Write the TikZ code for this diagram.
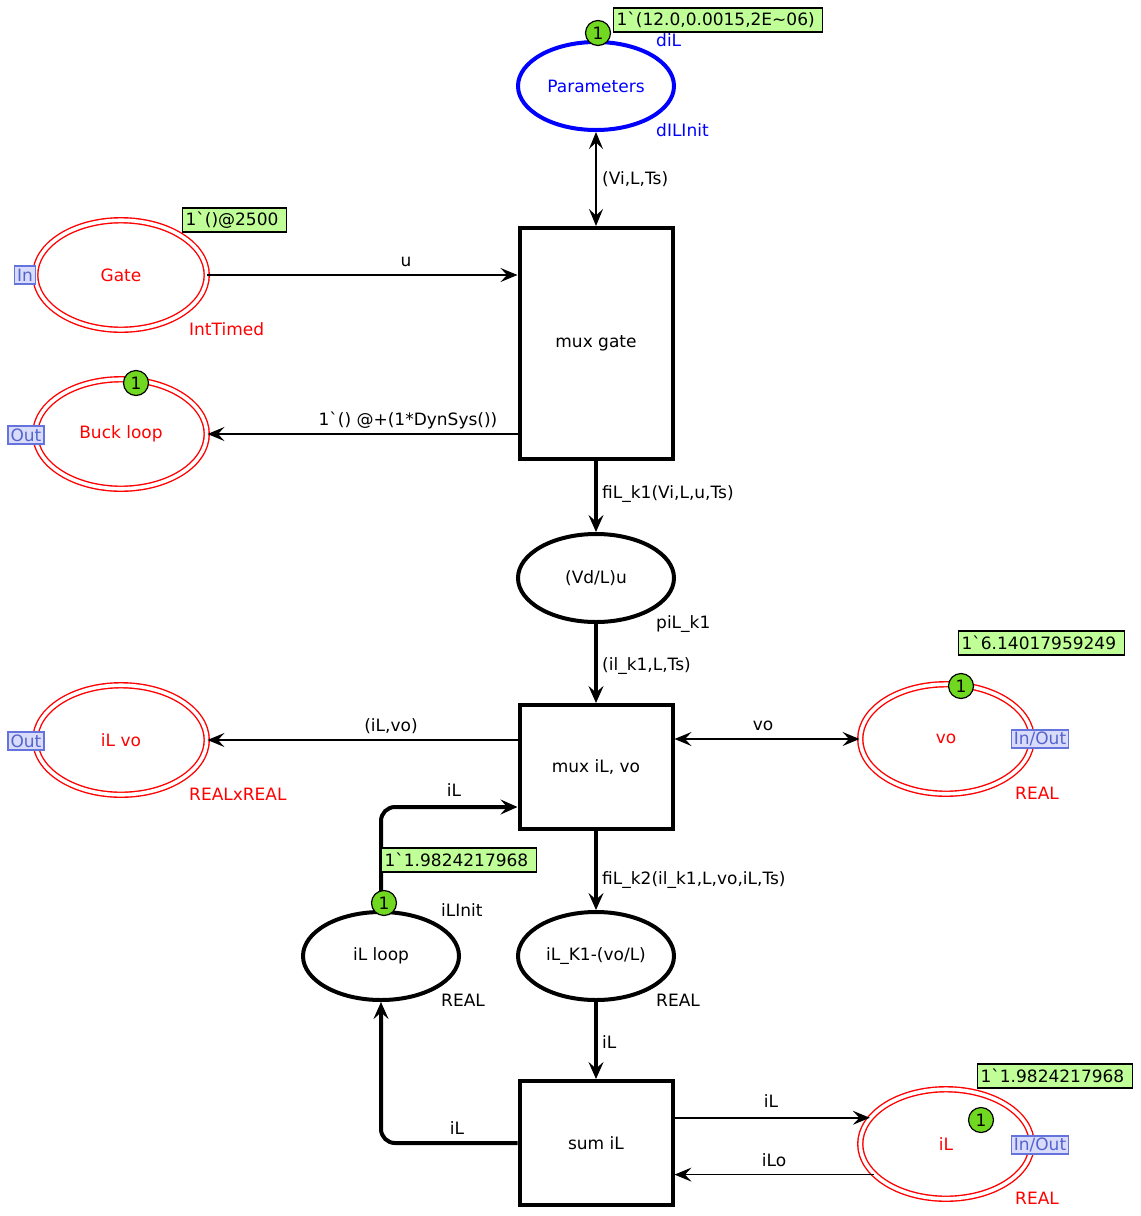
\documentclass[tikz,border=0pt]{standalone}
\usepackage{fontspec}
\setmainfont{DejaVu Sans}[Ligatures=TeXOff]
\usetikzlibrary{shapes.geometric,arrows.meta,calc}
\definecolor{tokgreen}{RGB}{112,216,32}
\definecolor{boxgreen}{RGB}{192,255,152}
\definecolor{tagfill}{RGB}{216,220,250}
\definecolor{tagdraw}{RGB}{100,116,220}
\definecolor{tagtext}{RGB}{85,100,205}
\begin{document}
\begin{tikzpicture}[x=1pt,y=-1pt,
 every node/.style={font=\fontsize{17}{20}\selectfont},
 trans/.style={draw, line width=4pt, minimum width=153pt, inner sep=0pt},
 bplace/.style={ellipse, draw, line width=4pt, minimum width=156pt, minimum height=88pt, inner sep=0pt},
 rplace/.style={ellipse, draw=red, line width=1.4pt, double=white, double distance=3.6pt, minimum width=171.5pt, minimum height=109.5pt, inner sep=0pt, text=red},
 tok/.style={circle, draw, line width=1.2pt, fill=tokgreen, minimum size=25pt, inner sep=0pt},
 gbox/.style={draw, line width=1.2pt, fill=boxgreen, anchor=west, minimum height=24pt, inner xsep=3pt, inner ysep=0pt, execute at end node={\hspace{5pt}}},
 tag/.style={draw=tagdraw, line width=1.2pt, fill=tagfill, text=tagtext, inner xsep=2.5pt, inner ysep=0pt, minimum height=18pt},
 lbl/.style={inner sep=0pt, text height=15pt, text depth=3pt},
 thinarc/.style={line width=1.5pt, -{Stealth[length=17pt,width=14pt,inset=6.5pt]}},
 dblarc/.style={line width=1.5pt, {Stealth[length=17pt,width=14pt,inset=6.5pt]}-{Stealth[length=17pt,width=14pt,inset=6.5pt]}},
 thickarc/.style={line width=4pt, -{Stealth[length=17pt,width=15pt,inset=6.5pt]}},
]
\useasboundingbox (0,0) rectangle (1141,1216);

% transitions
\node[trans, minimum height=231pt] (muxg) at (596,343.5) {mux gate};
\node[trans, minimum height=124pt] (muxv) at (596,767) {mux iL, vo};
\node[trans, minimum height=124pt] (sumil) at (596,1143) {sum iL};

% black / blue places
\node[bplace, draw=blue, text=blue] (par) at (596,86) {Parameters};
\node[bplace] (vd) at (596,578) {(Vd/L)u};
\node[bplace] (illoop) at (381,956) {iL loop};
\node[bplace] (ilk) at (596,956) {iL\_K1-(vo/L)};

% red port places
\node[rplace] (gate) at (121,275) {Gate};
\node[rplace] (buck) at (121,434) {Buck loop};
\node[rplace] (ilvo) at (121,740) {iL vo};
\node[rplace] (vo) at (946,739) {vo};
\node[rplace] (il) at (946,1144) {iL};

% arcs
\draw[dblarc] (par) -- (muxg);
\draw[thinarc] (gate) -- (gate -| muxg.west);
\draw[thinarc] (muxg.west |- buck) -- (buck);
\draw[thickarc] (muxg) -- (vd);
\draw[thickarc] (vd) -- (muxv);
\draw[thinarc] (muxv.west |- ilvo) -- (ilvo);
\draw[dblarc] (muxv.east |- vo) -- (vo);
\draw[thickarc, rounded corners=14pt] (illoop) |- ($(muxv.south west)+(0,-24)$);
\draw[thickarc] (muxv) -- (ilk);
\draw[thickarc] (ilk) -- (sumil);
\draw[thickarc, rounded corners=14pt] (sumil) -| (illoop);
\draw[thinarc] (sumil.east |- il.161) -- (il.161);
\draw[thinarc] (il.203) -- (sumil.east |- il.203);

% arc labels
\node[lbl, anchor=west] (lpar) at (602,178) {(Vi,L,Ts)};
\node[lbl] (lu) at (406,260) {u};
\node[lbl] (lbuck) at (408,419) {1`() @+(1*DynSys())};
\node[lbl, anchor=west] (lk1) at (602,492) {fiL\_k1(Vi,L,u,Ts)};
\node[lbl, anchor=west] (lk1b) at (602,664) {(il\_k1,L,Ts)};
\node[lbl] (lilvo) at (391,725) {(iL,vo)};
\node[lbl] (lvo) at (763,724) {vo};
\node[lbl] (lloop) at (454,790) {iL};
\node[lbl, anchor=west] (lk2) at (602,878) {fiL\_k2(il\_k1,L,vo,iL,Ts)};
\node[lbl, anchor=west] (lilk) at (602,1042) {iL};
\node[lbl] (lsum) at (457,1128) {iL};
\node[lbl] (lilout) at (771,1101) {iL};
\node[lbl] (lilin) at (774,1160) {iLo};

% place inscriptions
\node[lbl, anchor=west, text=blue] (pdil) at (656,40) {diL};
\node[lbl, anchor=west, text=blue] (pinit) at (656,130) {dILInit};
\node[lbl, anchor=west, text=red] (tygate) at (189,329) {IntTimed};
\node[lbl, anchor=west] (pvd) at (656,622) {piL\_k1};
\node[lbl, anchor=west, text=red] (tyilvo) at (189,794) {REALxREAL};
\node[lbl, anchor=west, text=red] (tyvo) at (1015,793) {REAL};
\node[lbl, anchor=west] (iinit) at (441,910) {iLInit};
\node[lbl, anchor=west] (tyloop) at (441,1000) {REAL};
\node[lbl, anchor=west] (tyilk) at (656,1000) {REAL};
\node[lbl, anchor=west, text=red] (tyil) at (1015,1198) {REAL};

% port tags
\node[tag] (tgate) at (25,275) {In};
\node[tag] (tbuck) at (26,435) {Out};
\node[tag] (tilvo) at (26,741) {Out};
\node[tag] (tvo) at (1040,739) {In/Out};
\node[tag] (til) at (1040,1145) {In/Out};

% tokens and markings
\node[tok] (kpar) at (598,33) {1};
\node[gbox] (mpar) at (613,20) {1`(12.0,0.0015,2E\textasciitilde06)};
\node[gbox] (mgate) at (182,220) {1`()@2500};
\node[tok] (kbuck) at (136,383) {1};
\node[tok] (kvo) at (961,686) {1};
\node[gbox] (mvo) at (958,643) {1`6.14017959249};
\node[gbox] (mloop) at (381,860) {1`1.9824217968};
\node[tok] (kloop) at (384,903) {1};
\node[tok] (kil) at (981,1120) {1};
\node[gbox] (mil) at (977,1076) {1`1.9824217968};
\end{tikzpicture}
\end{document}
